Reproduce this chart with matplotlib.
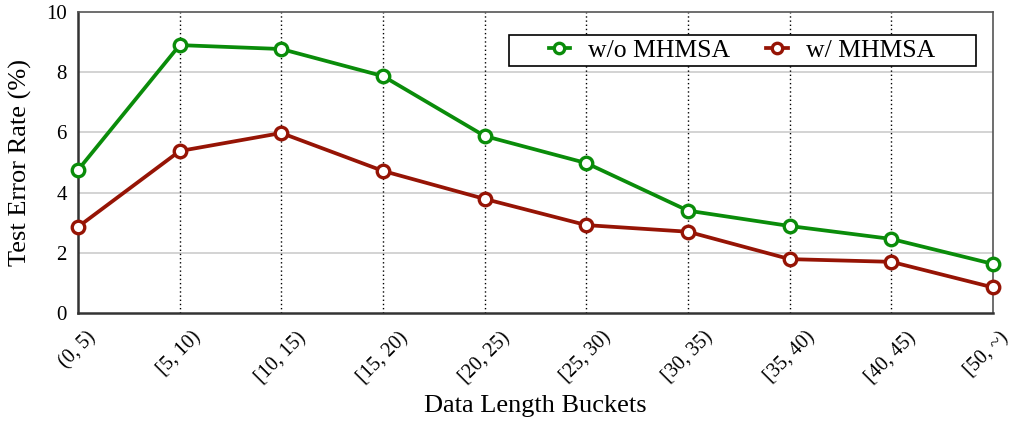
import numpy as np
import matplotlib.pyplot as plt
import matplotlib.transforms as mtransforms
from matplotlib.patches import Rectangle

plt.rcParams['font.family'] = ['Liberation Serif', 'DejaVu Serif']

# Buckets and error rates (%)
buckets = ["(0, 5)", "[5, 10)", "[10, 15)", "[15, 20)", "[20, 25)",
           "[25, 30)", "[30, 35)", "[35, 40)", "[40, 45)", "[50, ~)"]
without_mhmsa = [4.75, 8.9, 8.77, 7.87, 5.88, 4.98, 3.4, 2.89, 2.46, 1.63]
with_mhmsa = [2.86, 5.38, 5.98, 4.72, 3.79, 2.92, 2.7, 1.79, 1.7, 0.85]

green = "#0a8c0a"
red = "#961405"

W, H = 1016, 421
fig = plt.figure(figsize=(W / 100, H / 100), dpi=100)
ax = fig.add_axes([78 / W, 1 - 313 / H, 915 / W, 301 / H])

x = np.arange(len(buckets))

# grid lines
for yv in [2, 4, 6, 8]:
    ax.axhline(yv, color="#cccccc", lw=1.2, zorder=0)
for xv in x[1:-1]:
    ax.axvline(xv, color="black", lw=1.0, ls=(0, (1, 2)), zorder=0)

ax.plot(x, without_mhmsa, color=green, lw=2.7, marker="o", ms=9,
        mfc="white", mec=green, mew=2.4, label="w/o MHMSA", zorder=3,
        clip_on=False)
ax.plot(x, with_mhmsa, color=red, lw=2.7, marker="o", ms=9,
        mfc="white", mec=red, mew=2.4, label="w/ MHMSA", zorder=3,
        clip_on=False)

ax.set_xlim(0, 9)
ax.set_ylim(0, 10)
ax.set_yticks([0, 2, 4, 6, 8, 10])
ax.set_xticks(x)
ax.set_xticklabels(buckets, rotation=45, ha="center")
ax.tick_params(axis="x", length=0, labelsize=14.5, pad=11)
ax.tick_params(axis="y", length=0, labelsize=15, pad=8)

# nudge the last label so it stays inside the figure
last = ax.get_xticklabels()[-1]
last.set_transform(last.get_transform() +
                   mtransforms.ScaledTranslation(-6 / 100, 0, fig.dpi_scale_trans))

for side in ["left", "bottom"]:
    ax.spines[side].set_color("#333333")
    ax.spines[side].set_linewidth(1.8)
for side in ["top", "right"]:
    ax.spines[side].set_color("#555555")
    ax.spines[side].set_linewidth(1.2)

ax.set_xlabel("Data Length Buckets", fontsize=19, labelpad=6)
ax.set_ylabel("Test Error Rate (%)", fontsize=19, labelpad=10)

# legend frame drawn separately (wide horizontal padding)
ax.add_patch(Rectangle((509 / W, 1 - 66 / H), 467 / W, 31 / H,
                       transform=fig.transFigure, fill=True, fc="white",
                       ec="black", lw=1.2, zorder=4, clip_on=False))
leg = ax.legend(loc="center", bbox_to_anchor=(742 / W, 1 - 50.5 / H),
                bbox_transform=fig.transFigure, ncol=2, fontsize=18.5,
                frameon=False, handlelength=0.85, columnspacing=1.4,
                borderpad=0, handletextpad=0.7)
leg.set_zorder(5)
for h in leg.legend_handles:
    h.set_markersize(7.5)

fig.savefig("out.png", dpi=100)
